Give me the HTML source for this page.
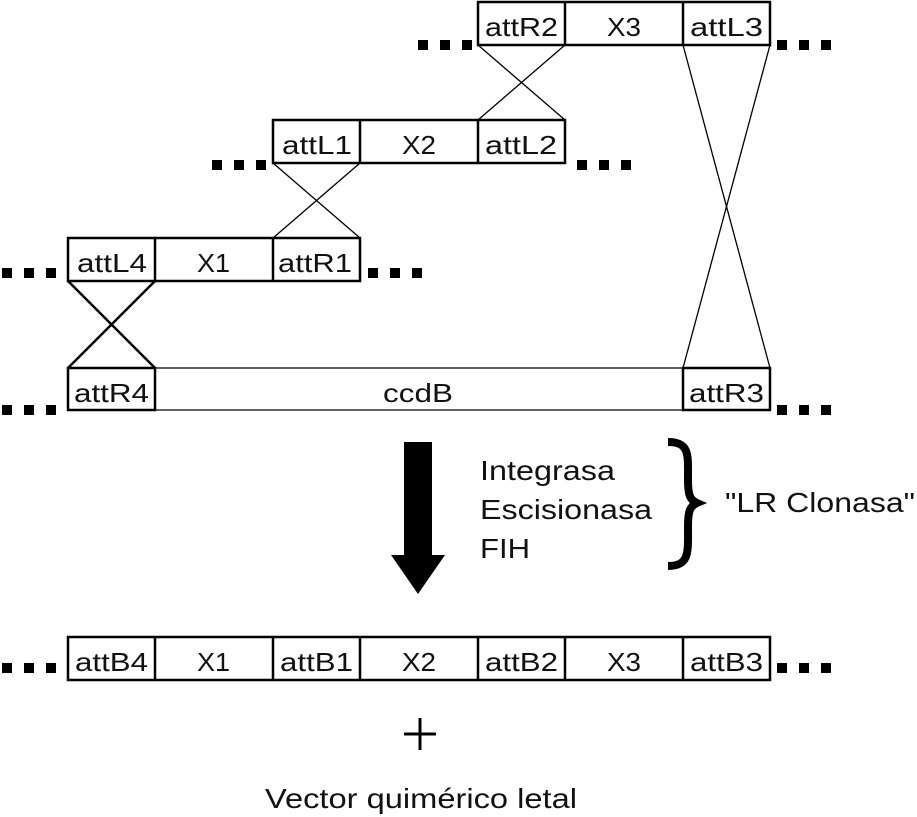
<!DOCTYPE html>
<html><head><meta charset="utf-8"><style>
html,body{margin:0;padding:0;background:#fff;}
svg{display:block;}
text{font-family:"Liberation Sans",sans-serif;fill:#111;}
</style></head><body>
<svg width="917" height="817" viewBox="0 0 917 817" xmlns="http://www.w3.org/2000/svg">
<g fill="#000">
<rect x="418" y="40" width="10" height="10"/><rect x="440" y="40" width="10" height="10"/><rect x="462" y="40" width="10" height="10"/>
<rect x="777" y="40" width="10" height="10"/><rect x="799" y="40" width="10" height="10"/><rect x="821" y="40" width="10" height="10"/>
<rect x="212" y="160" width="10" height="10"/><rect x="234" y="160" width="10" height="10"/><rect x="256" y="160" width="10" height="10"/>
<rect x="577" y="160" width="10" height="10"/><rect x="599" y="160" width="10" height="10"/><rect x="621" y="160" width="10" height="10"/>
<rect x="2" y="268" width="10" height="10"/><rect x="24" y="268" width="10" height="10"/><rect x="46" y="268" width="10" height="10"/>
<rect x="368" y="268" width="10" height="10"/><rect x="390" y="268" width="10" height="10"/><rect x="412" y="268" width="10" height="10"/>
<rect x="2" y="405" width="10" height="10"/><rect x="24" y="405" width="10" height="10"/><rect x="46" y="405" width="10" height="10"/>
<rect x="777" y="405" width="10" height="10"/><rect x="799" y="405" width="10" height="10"/><rect x="821" y="405" width="10" height="10"/>
<rect x="2" y="663" width="10" height="10"/><rect x="24" y="663" width="10" height="10"/><rect x="46" y="663" width="10" height="10"/>
<rect x="777" y="663" width="10" height="10"/><rect x="799" y="663" width="10" height="10"/><rect x="821" y="663" width="10" height="10"/>
</g>
<g fill="none" stroke="#000" stroke-width="2.5">
<rect x="478" y="2" width="292" height="43"/><line x1="565" y1="2" x2="565" y2="45"/><line x1="683" y1="2" x2="683" y2="45"/>
<rect x="273" y="120" width="292" height="43"/><line x1="360" y1="120" x2="360" y2="163"/><line x1="478" y1="120" x2="478" y2="163"/>
<rect x="68" y="238" width="292" height="43"/><line x1="155" y1="238" x2="155" y2="281"/><line x1="273" y1="238" x2="273" y2="281"/>
<rect x="68" y="368" width="87" height="42"/><rect x="683" y="368" width="87" height="42"/>
<rect x="68" y="637" width="702" height="43"/>
<line x1="155" y1="637" x2="155" y2="680"/><line x1="273" y1="637" x2="273" y2="680"/><line x1="360" y1="637" x2="360" y2="680"/><line x1="478" y1="637" x2="478" y2="680"/><line x1="565" y1="637" x2="565" y2="680"/><line x1="683" y1="637" x2="683" y2="680"/>
<line x1="68" y1="281" x2="155" y2="368"/><line x1="155" y1="281" x2="68" y2="368"/>
</g>
<g fill="none" stroke="#000" stroke-width="1.3">
<line x1="155" y1="368" x2="683" y2="368"/><line x1="155" y1="410" x2="683" y2="410"/>
<line x1="273" y1="163" x2="360" y2="238"/><line x1="360" y1="163" x2="273" y2="238"/>
<line x1="478" y1="45" x2="565" y2="120"/><line x1="565" y1="45" x2="478" y2="120"/>
<line x1="683" y1="45" x2="770" y2="368"/><line x1="770" y1="45" x2="683" y2="368"/>
</g>
<g font-size="26">
<text x="485" y="36" textLength="73" lengthAdjust="spacingAndGlyphs">attR2</text><text x="607" y="36" textLength="34" lengthAdjust="spacingAndGlyphs">X3</text><text x="690" y="36" textLength="73" lengthAdjust="spacingAndGlyphs">attL3</text>
<text x="282" y="154" textLength="70" lengthAdjust="spacingAndGlyphs">attL1</text><text x="402" y="154" textLength="34" lengthAdjust="spacingAndGlyphs">X2</text><text x="485" y="154" textLength="72" lengthAdjust="spacingAndGlyphs">attL2</text>
<text x="77" y="272" textLength="70" lengthAdjust="spacingAndGlyphs">attL4</text><text x="197" y="272" textLength="33" lengthAdjust="spacingAndGlyphs">X1</text><text x="278" y="272" textLength="74" lengthAdjust="spacingAndGlyphs">attR1</text>
<text x="74" y="402" textLength="75" lengthAdjust="spacingAndGlyphs">attR4</text><text x="383" y="402" textLength="70" lengthAdjust="spacingAndGlyphs">ccdB</text><text x="689" y="402" textLength="75" lengthAdjust="spacingAndGlyphs">attR3</text>
<text x="75" y="671" textLength="73" lengthAdjust="spacingAndGlyphs">attB4</text><text x="197" y="671" textLength="33" lengthAdjust="spacingAndGlyphs">X1</text><text x="280" y="671" textLength="73" lengthAdjust="spacingAndGlyphs">attB1</text><text x="402" y="671" textLength="34" lengthAdjust="spacingAndGlyphs">X2</text><text x="485" y="671" textLength="73" lengthAdjust="spacingAndGlyphs">attB2</text><text x="607" y="671" textLength="34" lengthAdjust="spacingAndGlyphs">X3</text><text x="690" y="671" textLength="73" lengthAdjust="spacingAndGlyphs">attB3</text>
</g>
<polygon points="404,442 432,442 432,555 445,555 418,594 391,555 404,555" fill="#000"/>
<g font-size="28">
<text x="480" y="480" textLength="135" lengthAdjust="spacingAndGlyphs">Integrasa</text>
<text x="480" y="519" textLength="172" lengthAdjust="spacingAndGlyphs">Escisionasa</text>
<text x="480" y="558" textLength="50" lengthAdjust="spacingAndGlyphs">FIH</text>
<text x="725" y="512" textLength="190" lengthAdjust="spacingAndGlyphs">"LR Clonasa"</text>
</g>
<path d="M668,442 C690,442 688,455 688,480 C688,495 690,500 697,503 C690,506 688,511 688,526 C688,552 690,566 668,566" fill="none" stroke="#000" stroke-width="8"/>
<line x1="420" y1="718" x2="420" y2="750" stroke="#000" stroke-width="3"/>
<line x1="404" y1="734" x2="436" y2="734" stroke="#000" stroke-width="3"/>
<text x="265" y="808" font-size="28" textLength="312" lengthAdjust="spacingAndGlyphs">Vector quimérico letal</text>
</svg>
</body></html>
